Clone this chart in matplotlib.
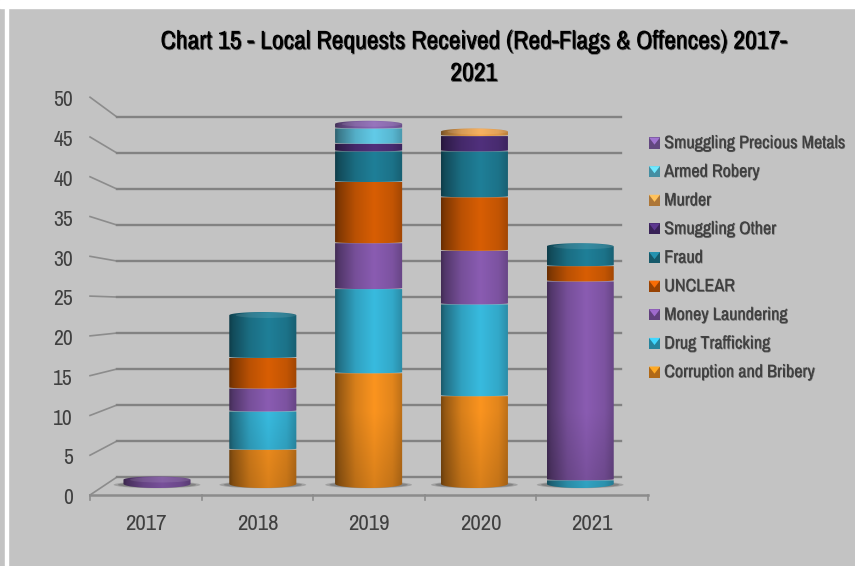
import matplotlib
matplotlib.use('Agg')
import matplotlib.pyplot as plt
import matplotlib.patheffects as pe
from matplotlib.patches import Ellipse, PathPatch, Rectangle, Polygon
from matplotlib.path import Path
import numpy as np

years = ['2017', '2018', '2019', '2020', '2021']
y_ticks = [0, 5, 10, 15, 20, 25, 30, 35, 40, 45, 50]

corruption = [0, 5, 15, 12, 0]
drug = [0, 5, 11, 12, 1]
money = [1.5, 3, 6, 7, 26]
unclear = [0, 4, 8, 7, 2]
fraud = [0, 6, 4, 6, 3]
smuggling_other = [0, 0, 1, 2, 0]
murder = [0, 0, 0, 1, 0]
armed = [0, 0, 2, 0, 0]
smuggling_metals = [0, 0, 1, 0, 0]

series = [corruption, drug, money, unclear, fraud, smuggling_other, murder, armed, smuggling_metals]
names = ['Corruption and Bribery', 'Drug Trafficking', 'Money Laundering', 'UNCLEAR', 'Fraud',
         'Smuggling Other', 'Murder', 'Armed Robery', 'Smuggling Precious Metals']
colors = ['#fb941f', '#38bbdf', '#8a5cb2', '#d85e04', '#1f7f98',
          '#50307c', '#f7a94f', '#62cbe8', '#8c66b6']

W, H = 855, 566
plt.rcParams['font.family'] = ['Archivo Narrow', 'Liberation Sans']

fig = plt.figure(figsize=(W / 100, H / 100), dpi=100, facecolor='#c3c3c3')
ax = fig.add_axes([0, 0, 1, 1])
ax.axis('off')

# one unit along x is one bar slot, one unit along y is one request on the bar plane
PX_X = 105.8
PX_Y = 7.65
ax.set_xlim(-157 / PX_X, (W - 157) / PX_X)
ax.set_ylim((488 - H) / PX_Y, 488 / PX_Y)

fig.add_artist(Rectangle((0, 1 - 8 / H), 1, 8 / H, color='white', transform=fig.transFigure))
fig.add_artist(Rectangle((5 / W, 0), 3 / W, 1, color='white', transform=fig.transFigure))

# walls and floor
front_x0, front_x1 = -0.633, 4.64
back_x0, back_x1 = -0.378, 4.386
line_col = '#828282'


def front_y(v):
    return -0.915 + 1.04 * v


def back_y(v):
    return 1.438 + 0.941 * v


for v in y_ticks:
    ax.plot([front_x0, back_x0], [front_y(v), back_y(v)], color='#8c8c8c', lw=1.2, zorder=1)
    ax.plot([back_x0, back_x1], [back_y(v), back_y(v)], color=line_col, lw=1.7, zorder=1)
    ax.text(-0.795, front_y(v) - 0.42, str(v), ha='right', va='center', fontsize=15.5, color='#404040')

ax.plot([front_x0, front_x1], [front_y(0), front_y(0)], color='#8c8c8c', lw=1.8, zorder=1)
tick_x = np.linspace(front_x0, front_x1, len(years) + 1)
for tx in tick_x:
    ax.plot([tx, tx], [front_y(0), front_y(0) - 0.7], color='#8c8c8c', lw=1.2, zorder=1)
for i, year in enumerate(years):
    ax.text((tick_x[i] + tick_x[i + 1]) / 2, front_y(0) - 3.75, year, ha='center', va='center',
            fontsize=16.5, color='#404040')


def shade(color, bottom, top):
    # light across the cylinder, brightest a bit right of centre, and dimmer near the floor
    t = np.linspace(0, 1, 120)
    across = np.interp(t, [0, 0.06, 0.3, 0.58, 0.85, 1], [0.48, 0.6, 0.86, 1.0, 0.9, 0.74])
    rows = np.linspace(bottom, top, 60)
    down = 0.86 + 0.14 * np.minimum(rows / 10, 1)
    rgb = np.array(matplotlib.colors.to_rgb(color))
    return np.outer(down, across)[:, :, None] * rgb


half_w = 0.317
top_b = 0.42
base_b = 0.55
seam_b = 0.14
arc = np.linspace(0, np.pi, 40)


def cylinder_path(x, bottom, top, low_b, high_b):
    xs_top = x + half_w * np.cos(arc)
    ys_top = top - high_b + high_b * np.sin(arc)
    xs_low = x - half_w * np.cos(arc)
    ys_low = bottom + low_b - low_b * np.sin(arc)
    return Path(np.column_stack([np.r_[xs_top, xs_low], np.r_[ys_top, ys_low]]))


totals = np.sum(series, axis=0)
for i in range(len(years)):
    ax.add_patch(Ellipse((i, 0.42), 0.82, 0.9, color='#8a8a8a', alpha=0.6, lw=0, zorder=2))
    ax.add_patch(Ellipse((i, 0.42), 0.74, 0.72, color='#6e6e6e', alpha=0.6, lw=0, zorder=2))
    base = 0
    for k, vals in enumerate(series):
        v = vals[i]
        if v == 0:
            continue
        low = base_b if base == 0 else seam_b
        is_top = base + v == totals[i]
        high = top_b if is_top else 0
        clip = cylinder_path(i, base, base + v, low, high)
        im = ax.imshow(shade(colors[k], base, base + v), origin='lower',
                       extent=(i - half_w, i + half_w, base - 0.1, base + v + 0.1),
                       aspect='auto', interpolation='bilinear', zorder=3 + k)
        im.set_clip_path(PathPatch(clip, transform=ax.transData))
        if is_top:
            ax.add_patch(Ellipse((i + 0.03, base + v - top_b), 2 * half_w * 0.9, top_b * 1.7,
                                 color='white', alpha=0.1, lw=0, zorder=20))
        base += v

ax.set_xlim(-157 / PX_X, (W - 157) / PX_X)
ax.set_ylim((488 - H) / PX_Y, 488 / PX_Y)

title_fx = [pe.Stroke(linewidth=0.5, foreground='#777777', offset=(0.8, -0.8)), pe.Normal()]
fig.text(473.5 / W, 1 - 41 / H, 'Chart 15 - Local Requests Received (Red-Flags & Offences) 2017-',
         ha='center', va='center', fontsize=18.5, color='black', path_effects=title_fx)
fig.text(473.5 / W, 1 - 73 / H, '2021',
         ha='center', va='center', fontsize=18.5, color='black', path_effects=title_fx)

# legend, top entry is the last series
row_y = np.linspace(143, 372, len(names))
for row, k in zip(row_y, range(len(names) - 1, -1, -1)):
    rgb = np.array(matplotlib.colors.to_rgb(colors[k]))
    x0, y0 = 649 / W, 1 - (row + 5.5) / H
    sw, sh = 11 / W, 11 / H
    fig.add_artist(Rectangle((x0, y0), sw, sh, color=rgb * 0.7, lw=0, transform=fig.transFigure))
    fig.add_artist(Polygon([[x0, y0 + sh], [x0 + sw, y0 + sh], [x0 + sw / 2, y0 + sh * 0.35]],
                           color=np.minimum(rgb * 1.15, 1), lw=0, transform=fig.transFigure))
    fig.text(664 / W, 1 - row / H, names[k], ha='left', va='center', fontsize=13, color='#404040',
             path_effects=[pe.Stroke(linewidth=0.3, foreground='#999999', offset=(0.5, -0.5)), pe.Normal()])

fig.savefig('out.png', dpi=100, facecolor=fig.get_facecolor())
